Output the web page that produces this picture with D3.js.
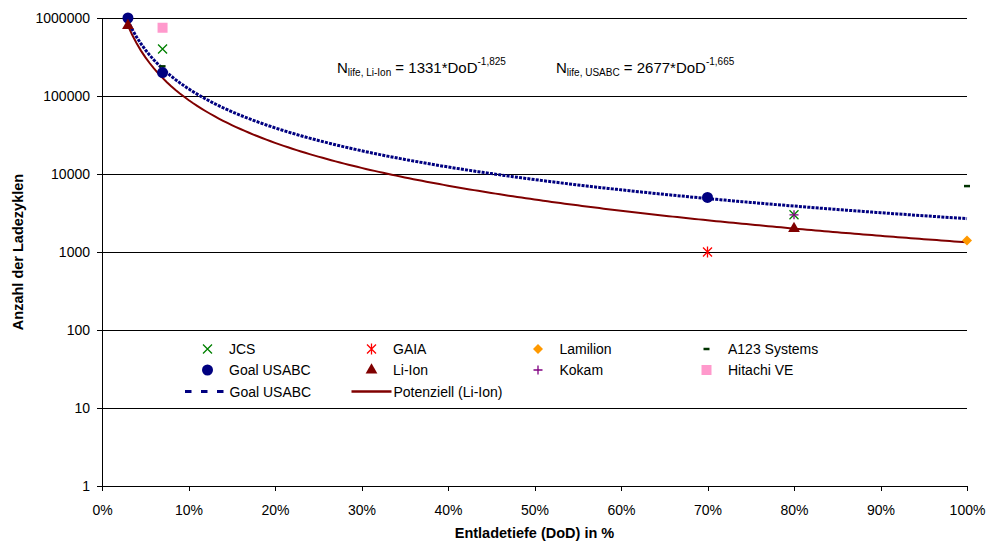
<!DOCTYPE html>
<html>
<head>
<meta charset="utf-8">
<script src="https://cdn.jsdelivr.net/npm/d3@7"></script>
<style>
  body { margin: 0; background: #fff; }
  text { font-family: "Liberation Sans", Arial, sans-serif; }
</style>
</head>
<body>
<svg id="canvas" width="987" height="545"></svg>
<script>
// data (DoD in %, cycles)
let jcs = [[7, 400000], [80, 3000]]
let gaia = [[70, 1000]]
let lamilion = [[100, 1400]]
let a123 = [[7, 240000], [100, 7000]]
let goalUsabc = [[3, 1000000], [7, 200000], [70, 5000]]
let liIon = [[3, 800000], [80, 2000]]
let kokam = [[80, 3000]]
let hitachi = [[7, 750000]]

// fit coefficients as printed in the chart
let usabcFit = { a: 2677, b: -1.665 }
let liIonFit = { a: 1331, b: -1.825 }

let xTicks = [0, 10, 20, 30, 40, 50, 60, 70, 80, 90, 100]
let yTicks = [1, 10, 100, 1000, 10000, 100000, 1000000]

let canvas = d3.select('#canvas')
let margin = { left: 102, right: 20, top: 18, bottom: 59 }
let width = 987 - margin.left - margin.right
let height = 545 - margin.top - margin.bottom

let g = canvas.append('g')
    .attr('transform', 'translate(' + margin.left + ',' + margin.top + ')')

let x = d3.scaleLinear().domain([0, 100]).range([0, width])
let y = d3.scaleLog().domain([1, 1000000]).range([height, 0])

// gridlines
g.selectAll('.grid')
    .data(yTicks.slice(1))
    .enter()
    .append('line')
    .attr('x1', 0).attr('x2', width)
    .attr('y1', d => y(d)).attr('y2', d => y(d))
    .attr('stroke', '#000').attr('stroke-width', 1)
    .attr('shape-rendering', 'crispEdges')

// axes
let xAxis = g.append('g')
    .attr('transform', 'translate(0,' + height + ')')
    .call(d3.axisBottom(x).tickValues(xTicks).tickFormat(d => d + '%').tickSize(5).tickSizeOuter(0))
let yAxis = g.append('g')
    .call(d3.axisLeft(y).tickValues(yTicks).tickFormat(d => String(d)).tickSize(5).tickSizeOuter(0))

;[xAxis, yAxis].forEach(ax => {
    ax.select('.domain').attr('stroke', '#000').attr('shape-rendering', 'crispEdges')
    ax.selectAll('line').attr('stroke', '#000').attr('shape-rendering', 'crispEdges')
    ax.selectAll('text').attr('font-size', 14).attr('fill', '#000')
        .style('font-family', '"Liberation Sans", Arial, sans-serif')
})
xAxis.selectAll('text').attr('y', 19)
yAxis.selectAll('text').attr('x', -12)

// fit curves
let curve = (fit) => d3.range(3, 100.01, 0.5).map(p => [p, fit.a * Math.pow(p / 100, fit.b)])
let line = d3.line().x(d => x(d[0])).y(d => y(d[1]))

g.append('path')
    .datum(curve(liIonFit))
    .attr('d', line)
    .attr('fill', 'none')
    .attr('stroke', '#800000')
    .attr('stroke-width', 2)

g.append('path')
    .datum(curve(usabcFit))
    .attr('d', line)
    .attr('fill', 'none')
    .attr('stroke', '#000080')
    .attr('stroke-width', 3)
    .attr('stroke-dasharray', '3,1.2')

// marker shapes
let shapes = {
    cross: s => 'M' + -s + ',' + -s + 'L' + s + ',' + s + 'M' + -s + ',' + s + 'L' + s + ',' + -s,
    star: s => 'M' + -s + ',' + -s + 'L' + s + ',' + s + 'M' + -s + ',' + s + 'L' + s + ',' + -s + 'M0,' + (-s - 1) + 'L0,' + (s + 1),
    plus: s => 'M' + -s + ',0L' + s + ',0M0,' + -s + 'L0,' + s,
    dash: s => 'M' + -s + ',0L' + s + ',0'
}

let series = [
    { name: 'JCS', data: jcs, color: '#008000', type: 'cross' },
    { name: 'GAIA', data: gaia, color: '#ff0000', type: 'star' },
    { name: 'Lamilion', data: lamilion, color: '#ff9900', type: 'diamond' },
    { name: 'A123 Systems', data: a123, color: '#003300', type: 'dash' },
    { name: 'Goal USABC', data: goalUsabc, color: '#000080', type: 'circle' },
    { name: 'Li-Ion', data: liIon, color: '#800000', type: 'triangle' },
    { name: 'Kokam', data: kokam, color: '#800080', type: 'plus' },
    { name: 'Hitachi VE', data: hitachi, color: '#ff99cc', type: 'square' }
]

let drawMarker = (sel, s) => {
    if (s.type === 'circle') {
        sel.append('circle').attr('r', 5.5).attr('fill', s.color)
    } else if (s.type === 'triangle') {
        sel.append('path').attr('d', d3.symbol(d3.symbolTriangle, 60)()).attr('fill', s.color)
    } else if (s.type === 'square') {
        sel.append('rect').attr('x', -5).attr('y', -5).attr('width', 10).attr('height', 10).attr('fill', s.color)
    } else if (s.type === 'diamond') {
        sel.append('path').attr('d', 'M0,-5L5,0L0,5L-5,0Z').attr('fill', s.color)
    } else if (s.type === 'dash') {
        sel.append('path').attr('d', shapes.dash(3)).attr('stroke', s.color).attr('stroke-width', 2.5)
    } else {
        sel.append('path').attr('d', shapes[s.type](4.5)).attr('stroke', s.color).attr('stroke-width', 1.3).attr('fill', 'none')
    }
}

series.forEach(s => {
    g.selectAll(null)
        .data(s.data)
        .enter()
        .append('g')
        .attr('transform', d => 'translate(' + x(d[0]) + ',' + y(d[1]) + ')')
        .each(function () { drawMarker(d3.select(this), s) })
})

// legend
let legendCols = [105.5, 269.5, 436, 604.5]
let legendRows = [331, 352, 373.5]
let legend = g.append('g')
series.forEach((s, i) => {
    let item = legend.append('g')
        .attr('transform', 'translate(' + legendCols[i % 4] + ',' + legendRows[Math.floor(i / 4)] + ')')
    drawMarker(item.append('g'), s)
    item.append('text').attr('x', 21.5).attr('y', 5).attr('font-size', 14).text(s.name)
})
let lineItems = [
    { name: 'Goal USABC', color: '#000080', width: 3, dash: '6.5,9.5', x1: -22.5, x2: 16, col: 0 },
    { name: 'Potenziell (Li-Ion)', color: '#800000', width: 2.5, dash: null, x1: -20, x2: 20, col: 1 }
]
lineItems.forEach(l => {
    let item = legend.append('g')
        .attr('transform', 'translate(' + legendCols[l.col] + ',' + legendRows[2] + ')')
    item.append('line').attr('x1', l.x1).attr('x2', l.x2).attr('y1', 0).attr('y2', 0)
        .attr('stroke', l.color).attr('stroke-width', l.width).attr('stroke-dasharray', l.dash)
    item.append('text').attr('x', 22).attr('y', 5).attr('font-size', 14).text(l.name)
})

// equations
let eq = (tx, sub, coef, exp) => {
    let t = canvas.append('text').attr('x', tx).attr('y', 73).attr('font-size', 15)
    t.append('tspan').text('N')
    t.append('tspan').attr('font-size', 10).attr('dy', 3).text('life, ' + sub)
    t.append('tspan').attr('dy', -3).text(' = ' + coef + '*DoD')
    t.append('tspan').attr('font-size', 10).attr('dy', -8).text(exp)
}
eq(337, 'Li-Ion', 1331, '-1,825')
eq(556, 'USABC', 2677, '-1,665')

// axis titles
canvas.append('text')
    .attr('transform', 'translate(23,' + (margin.top + height / 2) + ') rotate(-90)')
    .attr('text-anchor', 'middle')
    .attr('font-size', 14.5).attr('font-weight', 'bold')
    .text('Anzahl der Ladezyklen')
canvas.append('text')
    .attr('x', margin.left + width / 2).attr('y', 538)
    .attr('text-anchor', 'middle')
    .attr('font-size', 14.5).attr('font-weight', 'bold')
    .text('Entladetiefe (DoD) in %')
</script>
</body>
</html>
